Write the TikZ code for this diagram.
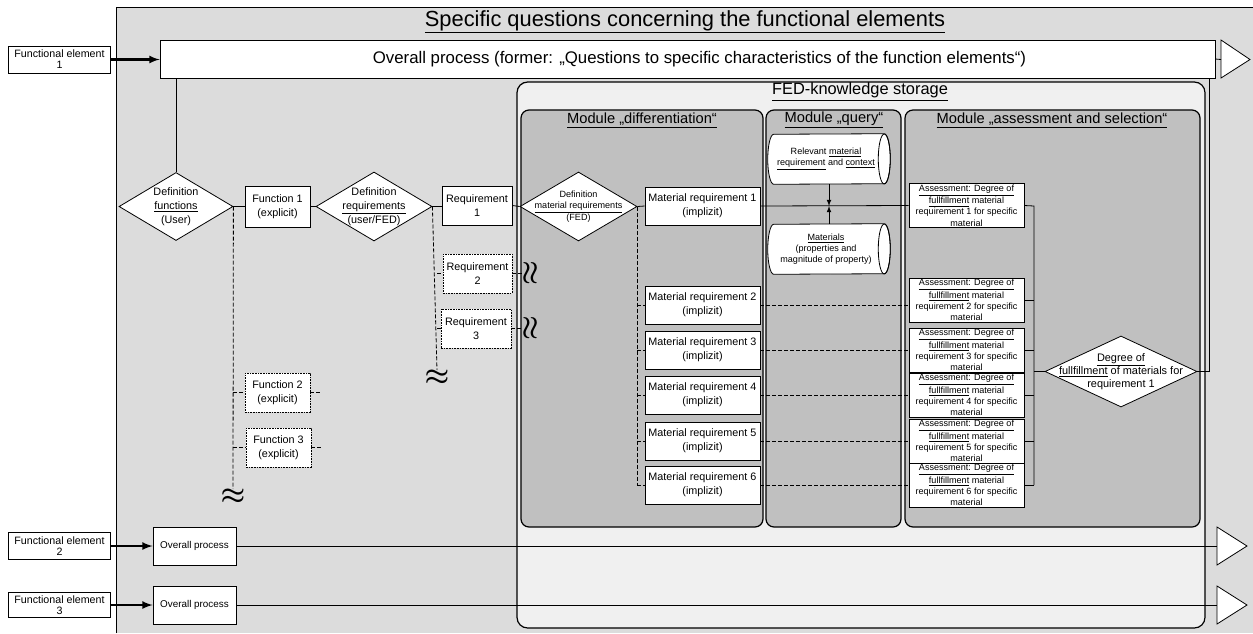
\documentclass[tikz,border=0pt]{standalone}
\usepackage{fontspec}
\setmainfont{Liberation Sans}
\usetikzlibrary{shapes.geometric}
\definecolor{outergray}{RGB}{220,220,220}
\definecolor{fedgray}{RGB}{240,240,240}
\definecolor{modgray}{RGB}{192,192,192}

\begin{document}
\begin{tikzpicture}[x=0.75pt,y=0.75pt,yscale=-1,xscale=1,
    boxsize/.style 2 args={minimum width=#1*0.75pt, minimum height=#2*0.75pt},
    box/.style={draw, fill=white, align=center, inner sep=0.75pt, line width=0.6pt},
    dbox/.style={box, dash pattern=on 1.2pt off 0.8pt},
    decision/.style={diamond, draw, fill=white, inner sep=0pt, line width=0.6pt},
    store/.style={inner sep=0pt, boxsize={122}{50}},
    module/.style={draw, fill=modgray, rounded corners=6pt, line width=0.9pt},
    conn/.style={line width=0.6pt},
    dconn/.style={conn, dash pattern=on 3pt off 1.5pt},
    feed/.style={line width=1.6pt, -latex},
    cut/.style={font=\fontsize{20}{20}\selectfont\boldmath, inner sep=0pt},
    fefont/.style={font=\fontsize{8}{8.4}\selectfont},
    mdfont/.style={font=\fontsize{8.1}{10.5}\selectfont},
    smfont/.style={font=\fontsize{6.8}{8.3}\selectfont},
    hdfont/.style={font=\fontsize{11}{13}\selectfont}
    ]
    \useasboundingbox (0,0) rectangle (1253,633);
    
    %Shape: Rectangle [outer frame]
    \fill[outergray] (116,7) rectangle (1253,633);
    \draw[conn] (116,633) -- (116,7) -- (1253,7);
    %Shape: Rectangle [FED storage]
    \draw[fill=fedgray, rounded corners=8pt, line width=0.9pt] (517,82) rectangle (1205,628);
    %Shape: Rectangle [modules]
    \draw[module] (521,110) rectangle (763,527);
    \draw[module] (766,110) rectangle (901,527);
    \draw[module] (905,110) rectangle (1200,527);
    
    % Text Node
    \draw (685,22) node [font=\fontsize{16.4}{18}\selectfont] (title) {\underline{Specific questions concerning the functional elements}};
    % Text Node
    \draw (860,92) node [font=\fontsize{12.3}{14}\selectfont] (fedtitle) {\underline{FED-knowledge storage}};
    % Text Node
    \draw (642,120) node [hdfont] (modiff) {\underline{Module „differentiation“}};
    % Text Node
    \draw (834,120) node [hdfont] (moquery) {\underline{Module „query“}};
    % Text Node
    \draw (1052,120) node [hdfont] (moassess) {\underline{Module „assessment and selection“}};
    
    %Functional element 1
    \draw (59.5,59.5) node [box, fefont, boxsize={102}{27}] (fe1) {Functional element\\1};
    \draw (687.5,59) node [box, font=\fontsize{12.6}{14}\selectfont, boxsize={1055}{38}] (op1) {\hspace{18pt}Overall process (former: „Questions to specific characteristics of the function elements“)};
    \draw[conn, fill=white] (1221,40) -- (1250,59.5) -- (1221,78) -- cycle;
    \coordinate (end1) at (1221,59.5);
    
    %Shape: Diamond
    \draw (176,206.5) node [decision, aspect=1.7, boxsize={114}{68}] (deffun) {};
    \draw (deffun) node [mdfont, align=center] (deffun-t) {Definition\\\underline{functions}\\(User)};
    %Shape: Rectangle
    \draw (277.5,206.5) node [box, mdfont, boxsize={65}{41}] (fun1) {Function 1\\(explicit)};
    \draw (277.5,392.5) node [dbox, mdfont, boxsize={65}{39}] (fun2) {Function 2\\(explicit)};
    \draw (278.5,447.5) node [dbox, mdfont, boxsize={65}{39}] (fun3) {Function 3\\(explicit)};
    \coordinate (fun2out) at (322,392.5);
    \coordinate (fun3out) at (322,447.5);
    \draw (233,497) node [cut] (fcut) {$\approx$};
    
    %Shape: Diamond
    \draw (374,206.5) node [decision, aspect=1.7, boxsize={116}{69}] (defreq) {};
    \draw (defreq) node [mdfont, align=center] (defreq-t) {Definition\\\underline{requirements}\\(user/FED)};
    %Shape: Rectangle
    \draw (477,205.5) node [box, mdfont, boxsize={70}{39}] (req1) {Requirement\\1};
    \draw (477.5,273.5) node [dbox, mdfont, boxsize={69}{39}] (req2) {Requirement\\2};
    \draw (476,328.5) node [dbox, mdfont, boxsize={70}{39}] (req3) {Requirement\\3};
    \draw (437,378) node [cut] (rcut) {$\approx$};
    \draw (531,273.5) node [cut, rotate=90] (wave2) {$\approx$};
    \draw (531,328.5) node [cut, rotate=90] (wave3) {$\approx$};
    
    %Module differentiation
    \draw (578.5,206.5) node [decision, aspect=1.7, boxsize={117}{69}] (defmat) {};
    \draw (defmat) node [smfont, align=center] (defmat-t) {Definition\\\underline{material requirements}\\(FED)};
    \foreach \i/\y in {1/206,2/305,3/350,4/395,5/441,6/485}{
      \draw (702.5,\y) node [box, mdfont, boxsize={115}{38}] (mr\i) {Material requirement \i\\(implizit)};
    }
    
    %Module query (two stores)
    \draw (829,159) node [store] (qrel) {};
    \draw[conn, fill=white] ([xshift=-4.5pt]qrel.north east) arc[start angle=-90, end angle=90, x radius=6, y radius=25]
      -- ([xshift=4.5pt]qrel.south west) arc[start angle=90, end angle=270, x radius=6, y radius=25] -- cycle;
    \draw[conn] ([xshift=-4.5pt]qrel.east) ellipse [x radius=6, y radius=25];
    \draw (826,159) node [smfont, align=center] (qrel-t) {Relevant \underline{material}\\\underline{requirement} and \underline{context}};
    \draw (829,249) node [store] (qmat) {};
    \draw[conn, fill=white] ([xshift=-4.5pt]qmat.north east) arc[start angle=-90, end angle=90, x radius=6, y radius=25]
      -- ([xshift=4.5pt]qmat.south west) arc[start angle=90, end angle=270, x radius=6, y radius=25] -- cycle;
    \draw[conn] ([xshift=-4.5pt]qmat.east) ellipse [x radius=6, y radius=25];
    \draw (826,249) node [smfont, align=center] (qmat-t) {\underline{Materials}\\(properties and\\magnitude of property)};
    
    %Module assessment and selection
    \foreach \i/\y in {1/205.5,2/300,3/350,4/395,5/441,6/485}{
      \draw (966.5,\y) node [box, smfont, boxsize={115}{44}] (as\i) {\underline{Assessment: Degree of}\\\underline{fullfillment} material\\requirement \i\ for specific\\material};
    }
    \coordinate (bus) at (1034,206);
    \coordinate (busend) at (1034,485);
    \draw (1121,371.5) node [decision, aspect=2.1, boxsize={152}{71}] (deg) {};
    \draw (deg) node [font=\fontsize{8.2}{9.8}\selectfont, align=center] (deg-t) {\underline{Degree of}\\\underline{fullfillment} of materials for\\requirement 1};
    
    %Functional elements 2 and 3
    \draw (59.5,546) node [box, fefont, boxsize={102}{27}] (fe2) {Functional element\\2};
    \draw (194.5,546) node [box, font=\fontsize{7.4}{9}\selectfont, boxsize={83}{38}] (op2) {Overall process};
    \draw[conn, fill=white] (1217,527) -- (1247,546) -- (1217,565) -- cycle;
    \coordinate (end2) at (1217,546);
    \draw (59.5,605) node [box, fefont, boxsize={102}{25}] (fe3) {Functional element\\3};
    \draw (194.5,605) node [box, font=\fontsize{7.4}{9}\selectfont, boxsize={83}{38}] (op3) {Overall process};
    \draw[conn, fill=white] (1217,586) -- (1247,605) -- (1217,624) -- cycle;
    \coordinate (end3) at (1217,605);
    
    %Straight Lines
    \draw[feed] (fe1) -- (op1.west |- fe1);
    \draw[feed] (fe2) -- (op2);
    \draw[feed] (fe3) -- (op3);
    \draw[conn] (op1.east) -- (end1);
    \draw[conn] (op2.east) -- (end2);
    \draw[conn] (op3.east) -- (end3);
    \draw[conn] (deffun.north) -- (deffun.north |- op1.south);
    \draw[conn] (deffun.east) -- (fun1.west);
    \draw[conn] (fun1.east) -- (defreq.west);
    \draw[conn] (defreq.east) -- (defreq.east -| req1.west);
    \draw[conn] (req1.east) -- (defmat.west);
    \draw[conn] (defmat.east) -- (mr1.west);
    \draw[conn] (mr1.east) -- (as1.west);
    \draw[conn] (as1.east) -- (bus) -- (busend);
    \foreach \i in {2,...,6}{
      \draw[conn] (as\i.east) -- (as\i.east -| bus);
      \draw[dconn] (mr\i.east) -- (mr\i.east -| as\i.west);
      \draw[dconn] (defmat.east |- mr\i.west) -- (mr\i.west);
    }
    \draw[dconn] (defmat.east) -- (defmat.east |- mr6.west);
    \draw[conn] (bus |- deg.west) -- (deg.west);
    \draw[conn] (deg.east) -| ([xshift=-4.5pt]op1.south east);
    \draw[conn, -latex] (qrel.south) -- (qrel.south |- mr1.east);
    \draw[conn, -latex] (qmat.north) -- (qmat.north |- mr1.east);
    
    %Dashed Lines
    \draw[dconn] (deffun.east) -- (fcut.north);
    \draw[dconn] (fcut |- fun2.west) -- (fun2.west);
    \draw[dconn] (fcut |- fun3.west) -- (fun3.west);
    \draw[dconn] (fun2.east) -- (fun2out);
    \draw[dconn] (fun3.east) -- (fun3out);
    \draw[dconn] (defreq.east) -- (rcut.north);
    \draw[dconn] (rcut |- req2.west) -- (req2.west);
    \draw[dconn] (rcut |- req3.west) -- (req3.west);
    \draw[dconn] (req2.east) -- (wave2);
    \draw[dconn] (req3.east) -- (wave3);
    
\end{tikzpicture}
\end{document}
